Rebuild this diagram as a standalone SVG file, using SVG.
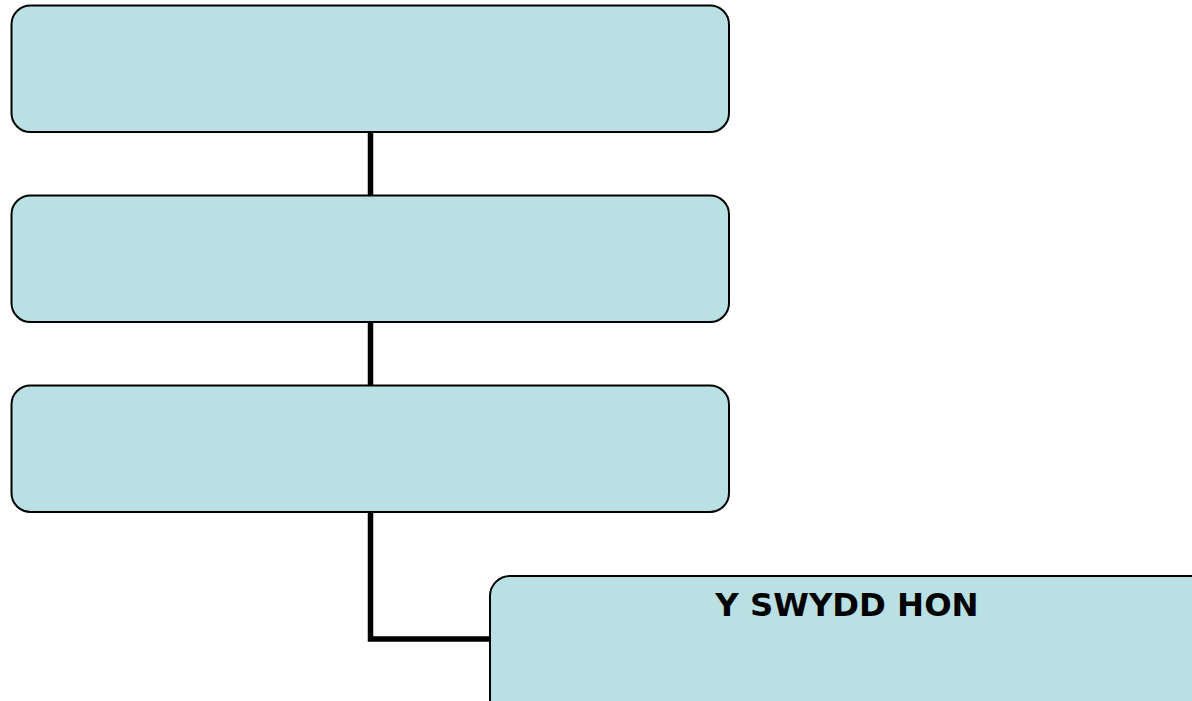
<svg xmlns="http://www.w3.org/2000/svg" width="1192" height="701" viewBox="0 0 1192 701">
<style>
.box{fill:#b9e0e3;stroke:#000;stroke-width:2}
.conn{fill:none;stroke:#000;stroke-width:5.5}
.lbl{font-family:"DejaVu Sans",Verdana,sans-serif;font-weight:bold;font-size:32.3px;fill:#000;text-anchor:middle}
</style>
<rect width="1192" height="701" fill="#fff"/>
<g id="connectors">
<path class="conn" d="M370.5 131V197"/>
<path class="conn" d="M370.5 321V387"/>
<path class="conn" d="M370.5 511V639H491"/>
</g>
<g id="node1"><rect class="box" x="11.5" y="5.5" width="717.5" height="126.5" rx="19"/></g>
<g id="node2"><rect class="box" x="11.5" y="195.5" width="717.5" height="126.5" rx="19"/></g>
<g id="node3"><rect class="box" x="11.5" y="385.5" width="717.5" height="126.5" rx="19"/></g>
<g id="node4"><rect class="box" x="490" y="576" width="720" height="160" rx="20"/>
<text class="lbl" x="847" y="616">Y SWYDD HON</text></g>
</svg>
